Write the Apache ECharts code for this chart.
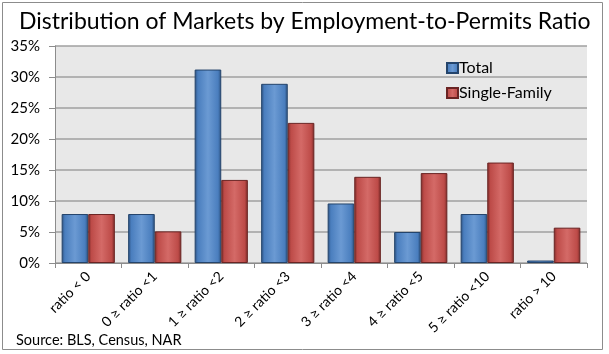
<!DOCTYPE html>
<html>
<head>
<meta charset="utf-8">
<script src="https://cdn.jsdelivr.net/npm/echarts@6/dist/echarts.min.js"></script>
<style>
  html, body { margin: 0; padding: 0; background: #fff; }
  #chart { width: 609px; height: 354px; }
</style>
</head>
<body>
<div id="chart"></div>
<script>
// categories and values (percent)
var categories = ["ratio < 0", "0 \u2265 ratio <1", "1 \u2265 ratio <2", "2 \u2265 ratio <3",
  "3 \u2265 ratio <4", "4 \u2265 ratio <5", "5 \u2265 ratio <10", "ratio > 10"];
var totalValues = [7.9, 7.9, 31.2, 28.9, 9.6, 5.0, 7.9, 0.4];
var singleFamilyValues = [7.9, 5.1, 13.4, 22.6, 13.9, 14.5, 16.2, 5.7];

var font = "Lato, 'Open Sans', sans-serif";

// bevel-ish look for the bars
function barFill(dark, mid, light) {
  return new echarts.graphic.LinearGradient(0, 0, 1, 0, [
    { offset: 0, color: dark },
    { offset: 0.12, color: mid },
    { offset: 0.5, color: light },
    { offset: 0.88, color: mid },
    { offset: 1, color: dark }
  ]);
}

var myChart = echarts.init(document.getElementById("chart"));
var option = {
  backgroundColor: "#fff",
  animation: false,
  title: {
    text: "Distribution of Markets by Employment-to-Permits Ratio",
    left: 14,
    top: 5,
    textStyle: { fontFamily: font, fontSize: 23, fontWeight: "normal", color: "#000" }
  },
  legend: {
    orient: "vertical",
    left: 441,
    top: 55,
    itemWidth: 11,
    itemHeight: 10,
    itemGap: 9,
    icon: "rect",
    textStyle: { fontFamily: font, fontSize: 16, color: "#000", padding: [0, 0, 0, -4] },
    data: ["Total", "Single-Family"]
  },
  grid: { left: 55, right: 22, top: 46, bottom: 91, show: true, backgroundColor: "#e8e8e8", borderWidth: 0 },
  xAxis: {
    type: "category",
    data: categories,
    axisLine: { lineStyle: { color: "#8c8c8c" } },
    axisTick: { show: true, length: 5, lineStyle: { color: "#8c8c8c" } },
    axisLabel: { rotate: 45, fontFamily: font, fontSize: 14, color: "#000", margin: 11, interval: 0 }
  },
  yAxis: {
    type: "value",
    min: 0,
    max: 35,
    interval: 5,
    axisLine: { show: true, lineStyle: { color: "#8c8c8c" } },
    axisTick: { show: true, length: 6, lineStyle: { color: "#8c8c8c" } },
    axisLabel: { formatter: "{value}%", fontFamily: font, fontSize: 15, color: "#000", margin: 15 },
    splitLine: { lineStyle: { color: "#a0a0a0", width: 1.5 } }
  },
  series: [
    {
      name: "Total",
      type: "bar",
      data: totalValues,
      barWidth: "40%",
      barGap: "0%",
      itemStyle: {
        color: barFill("#2b4f7d", "#4a7ebe", "#6b9ad3"),
        borderColor: "#24446b",
        borderWidth: 1
      }
    },
    {
      name: "Single-Family",
      type: "bar",
      data: singleFamilyValues,
      barWidth: "40%",
      itemStyle: {
        color: barFill("#7a2a28", "#bd4b48", "#d46a67"),
        borderColor: "#6a2423",
        borderWidth: 1
      }
    }
  ],
  graphic: [
    {
      type: "rect",
      shape: { x: 2.5, y: 2.5, width: 600, height: 347 },
      style: { fill: null, stroke: "#8c8c8c", lineWidth: 1 },
      silent: true
    },
    {
      type: "text",
      left: 16,
      top: 333,
      style: { text: "Source: BLS, Census, NAR", font: "14.5px " + font, fill: "#000" }
    }
  ]
};
myChart.setOption(option);
window.addEventListener("resize", function () {
  myChart.resize();
});
</script>
</body>
</html>
